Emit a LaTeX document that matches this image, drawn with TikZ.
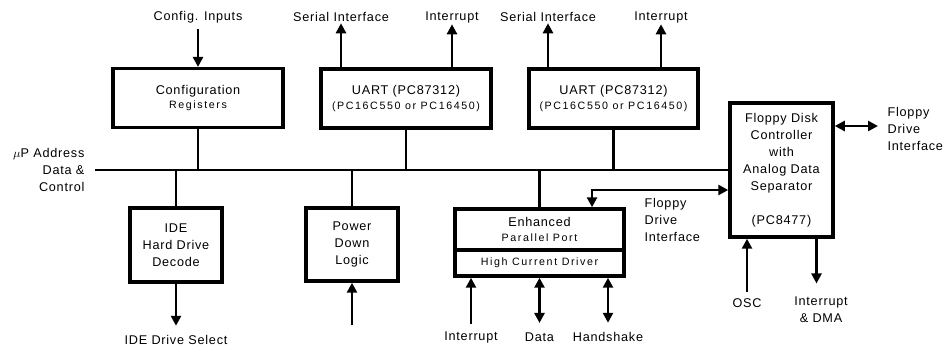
\documentclass[tikz,border=0pt]{standalone}
\usepackage{fontspec}
\setmainfont{Liberation Sans}[LetterSpace=6]
\newfontfamily\subfont{Liberation Sans}[LetterSpace=15]
\usetikzlibrary{positioning,arrows.meta,calc}
\tikzset{
  blk/.style={draw,line width=2.6pt,align=center,inner sep=0pt},
  wire/.style={line width=2pt},
  arr/.style={wire,-{Triangle[length=7.5pt,width=7.5pt]}},
  darr/.style={wire,{Triangle[length=7.5pt,width=7.5pt]}-{Triangle[length=7.5pt,width=7.5pt]}},
  lbl/.style={align=center,inner sep=1pt},
}
\newcommand{\subtxt}[1]{{\subfont\fontsize{8}{10}\selectfont #1}}

\begin{document}
\begin{tikzpicture}[x=0.75pt,y=-0.75pt,font=\fontsize{9.5}{12.75}\selectfont]
  \useasboundingbox (0,0) rectangle (944,347);
  % blocks
  \node[blk,minimum width=127.5pt,minimum height=44pt] (cfg) at (198,98)
    {Configuration\\[-2pt]\subtxt{Registers}};
  \node[blk,minimum width=127.5pt,minimum height=44pt] (uartA) at (406,98.5)
    {UART (PC87312)\\[-1pt]\subtxt{(PC16C550 or PC16450)}};
  \node[blk,minimum width=127pt,minimum height=44pt] (uartB) at (613.5,98.5)
    {UART (PC87312)\\[-1pt]\subtxt{(PC16C550 or PC16450)}};
  \node[blk,minimum width=69pt,minimum height=55.5pt] (ide) at (176,245)
    {IDE\\Hard Drive\\Decode};
  \node[blk,minimum width=69pt,minimum height=54.75pt] (pdl) at (352,244.5)
    {Power\\Down\\Logic};
  \node[blk,minimum width=126.75pt,minimum height=30.75pt] (epp) at (539.5,229.5)
    {Enhanced\\[-1pt]\subtxt{Parallel Port}};
  \node[blk,minimum width=126.75pt,minimum height=19.5pt] (hcd) at (539.5,263)
    {\subtxt{High Current Driver}};
  \node[blk,minimum width=77.25pt,minimum height=100.5pt] (fdc) at (781.5,170)
    {Floppy Disk\\Controller\\with\\Analog Data\\Separator\\[13pt](PC8477)};
  % labels
  \node[lbl] (cfgin) at (198,17) {Config. Inputs};
  \node[lbl] (serA) at (341,17) {Serial Interface};
  \node[lbl] (intA) at (452,17) {Interrupt};
  \node[lbl] (serB) at (548,17) {Serial Interface};
  \node[lbl] (intB) at (661,17) {Interrupt};
  \node[lbl,anchor=east,align=right] (cpu) at (86,170) {$\mu$P Address\\Data \&\\Control};
  \node[lbl] (idesel) at (176,340) {IDE Drive Select};
  \node[lbl] (intP) at (471,337) {Interrupt};
  \node[lbl] (dataP) at (539.5,337) {Data};
  \node[lbl] (hsP) at (608,337) {Handshake};
  \node[lbl,anchor=north west,align=left] (fdd) at (643,197) {Floppy\\Drive\\Interface};
  \node[lbl,anchor=west,align=left] (fdr) at (886,129) {Floppy\\Drive\\Interface};
  \node[lbl] (osc) at (747,303) {OSC};
  \node[lbl] (irq) at (821,310) {Interrupt\\\& DMA};
  % bus
  \coordinate (bus) at (95,170);
  \draw[wire] (bus) -- (fdc.west);
  \draw[wire] (cfg.south) -- (cfg.south |- bus);
  \draw[wire] (uartA.south) -- (uartA.south |- bus);
  \draw[wire] (uartB.south) -- (uartB.south |- bus);
  \draw[wire] (ide.north |- bus) -- (ide.north);
  \draw[wire] (pdl.north |- bus) -- (pdl.north);
  \draw[wire] (epp.north |- bus) -- (epp.north);
  % top arrows
  \draw[arr,shorten <=3pt] (cfgin.south) -- (cfg.north);
  \draw[arr] (uartA.north -| serA) -- (serA.south);
  \draw[arr] (uartA.north -| intA) -- (intA.south);
  \draw[arr] (uartB.north -| serB) -- (serB.south);
  \draw[arr] (uartB.north -| intB) -- (intB.south);
  % bottom arrows
  \draw[arr,shorten >=6pt] (ide.south) -- (idesel.north);
  \coordinate (pdlin) at (352,325);
  \draw[arr] (pdlin) -- (pdl.south);
  \draw[arr,shorten <=4pt] (intP.north) -- (intP.north |- hcd.south);
  \draw[darr,shorten <=6pt] (dataP.north) -- (hcd.south);
  \draw[darr,shorten <=6pt] (hsP.north) -- (hsP.north |- hcd.south);
  % floppy links
  \coordinate (eppfd) at ([xshift=39.4pt]epp.north);
  \coordinate (fdcfd) at ([yshift=-15pt]fdc.west);
  \draw[darr] (eppfd) |- (fdcfd);
  \draw[darr,shorten >=6pt] ([yshift=33pt]fdc.east) -- ([yshift=33pt]fdc.east -| fdr.west);
  \draw[arr,shorten <=4pt] (osc.north) -- (osc.north |- fdc.south);
  \draw[arr,shorten >=9pt] ([xshift=26.25pt]fdc.south) -- ([xshift=26.25pt]fdc.south |- irq.north);
\end{tikzpicture}
\end{document}
